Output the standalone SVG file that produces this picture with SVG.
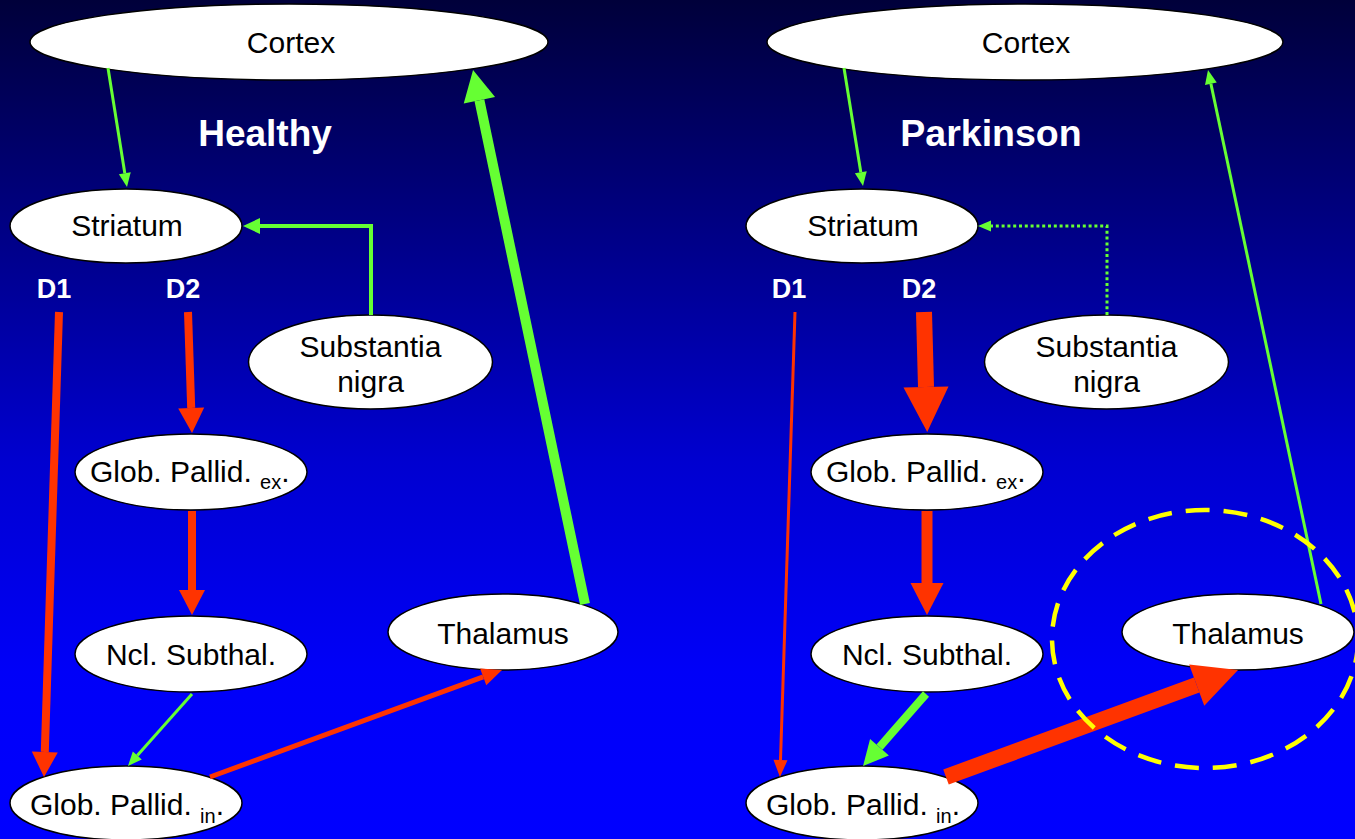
<svg xmlns="http://www.w3.org/2000/svg" width="1355" height="839" viewBox="0 0 1355 839">
  <defs>
    <linearGradient id="bg" x1="0" y1="0" x2="0" y2="1">
      <stop offset="0" stop-color="#00003a"/>
      <stop offset="0.3" stop-color="#00008c"/>
      <stop offset="0.55" stop-color="#0000d0"/>
      <stop offset="0.8" stop-color="#0000f8"/>
      <stop offset="1" stop-color="#0000ff"/>
    </linearGradient>
    <marker id="g14" markerUnits="userSpaceOnUse" markerWidth="14" markerHeight="12" refX="0" refY="6" orient="auto" overflow="visible"><path d="M0,0 L14,6 L0,12 Z" fill="#66ff33"/></marker>
    <marker id="g13" markerUnits="userSpaceOnUse" markerWidth="13" markerHeight="11" refX="0" refY="5.5" orient="auto" overflow="visible"><path d="M0,0 L13,5.5 L0,11 Z" fill="#66ff33"/></marker>
    <marker id="g17" markerUnits="userSpaceOnUse" markerWidth="17" markerHeight="16" refX="0" refY="8" orient="auto" overflow="visible"><path d="M0,0 L17,8 L0,16 Z" fill="#66ff33"/></marker>
    <marker id="g25" markerUnits="userSpaceOnUse" markerWidth="25" markerHeight="25" refX="0" refY="12.5" orient="auto" overflow="visible"><path d="M0,0 L25,12.5 L0,25 Z" fill="#66ff33"/></marker>
    <marker id="g31" markerUnits="userSpaceOnUse" markerWidth="31" markerHeight="32" refX="0" refY="16" orient="auto" overflow="visible"><path d="M0,0 L31,16 L0,32 Z" fill="#66ff33"/></marker>
    <marker id="r17" markerUnits="userSpaceOnUse" markerWidth="17" markerHeight="14" refX="0" refY="7" orient="auto" overflow="visible"><path d="M0,0 L17,7 L0,14 Z" fill="#ff3300"/></marker>
    <marker id="r20" markerUnits="userSpaceOnUse" markerWidth="20" markerHeight="18" refX="0" refY="9" orient="auto" overflow="visible"><path d="M0,0 L20,9 L0,18 Z" fill="#ff3300"/></marker>
    <marker id="r25" markerUnits="userSpaceOnUse" markerWidth="25" markerHeight="26" refX="0" refY="13" orient="auto" overflow="visible"><path d="M0,0 L25,13 L0,26 Z" fill="#ff3300"/></marker>
    <marker id="r32" markerUnits="userSpaceOnUse" markerWidth="32" markerHeight="33" refX="0" refY="16.5" orient="auto" overflow="visible"><path d="M0,0 L32,16.5 L0,33 Z" fill="#ff3300"/></marker>
    <marker id="r44" markerUnits="userSpaceOnUse" markerWidth="44" markerHeight="44" refX="0" refY="22" orient="auto" overflow="visible"><path d="M0,0 L44,22 L0,44 Z" fill="#ff3300"/></marker>
    <marker id="r45" markerUnits="userSpaceOnUse" markerWidth="45" markerHeight="45" refX="0" refY="22.5" orient="auto" overflow="visible"><path d="M0,0 L45,22.5 L0,45 Z" fill="#ff3300"/></marker>
  </defs>
  <style>
    .node ellipse { fill: #ffffff; stroke: #000000; stroke-width: 1.5; }
    .node text { font-family: "Liberation Sans", Arial, sans-serif; font-size: 30px; fill: #000000; }
    .node text.c { text-anchor: middle; }
    .sub { font-size: 20px; }
    .title { font-family: "Liberation Sans", Arial, sans-serif; font-weight: bold; fill: #ffffff; text-anchor: middle; }
    .g { stroke: #66ff33; fill: none; stroke-linecap: butt; }
    .r { stroke: #ff3300; fill: none; stroke-linecap: butt; }
  </style>
  <rect x="0" y="0" width="1355" height="839" fill="url(#bg)"/>

  <!-- Titles and labels -->
  <g id="labels">
    <text class="title" x="265" y="146" font-size="37">Healthy</text>
    <text class="title" x="991" y="146" font-size="37.5">Parkinson</text>
    <text class="title" x="54" y="298" font-size="27">D1</text>
    <text class="title" x="183" y="298" font-size="27">D2</text>
    <text class="title" x="789" y="298" font-size="27">D1</text>
    <text class="title" x="919" y="298" font-size="27">D2</text>
  </g>

  <!-- Healthy nodes -->
  <g id="h-cortex" class="node"><ellipse cx="289" cy="42" rx="259" ry="38"/><text class="c" x="291" y="53">Cortex</text></g>
  <g id="h-striatum" class="node"><ellipse cx="126" cy="226" rx="116" ry="37"/><text class="c" x="127" y="236">Striatum</text></g>
  <g id="h-sn" class="node"><ellipse cx="370.5" cy="362" rx="122" ry="47"/><text class="c" x="370.5" y="357">Substantia</text><text class="c" x="370.5" y="392">nigra</text></g>
  <g id="h-gpex" class="node"><ellipse cx="191" cy="472" rx="116" ry="38"/><text x="90" y="482">Glob. Pallid. <tspan class="sub" dy="7">ex</tspan><tspan dy="-7">.</tspan></text></g>
  <g id="h-ncl" class="node"><ellipse cx="191" cy="654" rx="116" ry="38"/><text class="c" x="191" y="665">Ncl. Subthal.</text></g>
  <g id="h-thal" class="node"><ellipse cx="503" cy="632" rx="115" ry="38"/><text class="c" x="503" y="644">Thalamus</text></g>
  <g id="h-gpin" class="node"><ellipse cx="126" cy="803" rx="116" ry="37"/><text x="30" y="815">Glob. Pallid. <tspan class="sub" dy="8">in</tspan><tspan dy="-8">.</tspan></text></g>

  <!-- Parkinson nodes -->
  <g id="p-cortex" class="node"><ellipse cx="1025" cy="42" rx="258" ry="38"/><text class="c" x="1026" y="53">Cortex</text></g>
  <g id="p-striatum" class="node"><ellipse cx="862" cy="226" rx="116" ry="37"/><text class="c" x="863" y="236">Striatum</text></g>
  <g id="p-sn" class="node"><ellipse cx="1106.5" cy="362" rx="122" ry="47"/><text class="c" x="1106.5" y="357">Substantia</text><text class="c" x="1106.5" y="392">nigra</text></g>
  <g id="p-gpex" class="node"><ellipse cx="927" cy="472" rx="116" ry="38"/><text x="826" y="482">Glob. Pallid. <tspan class="sub" dy="7">ex</tspan><tspan dy="-7">.</tspan></text></g>
  <g id="p-ncl" class="node"><ellipse cx="927" cy="654" rx="116" ry="38"/><text class="c" x="927" y="665">Ncl. Subthal.</text></g>
  <g id="p-thal" class="node"><ellipse cx="1238" cy="632" rx="116" ry="38"/><text class="c" x="1238" y="644">Thalamus</text></g>
  <g id="p-gpin" class="node"><ellipse cx="862" cy="803" rx="116" ry="37"/><text x="766" y="815">Glob. Pallid. <tspan class="sub" dy="8">in</tspan><tspan dy="-8">.</tspan></text></g>

  <!-- Connectors -->
  <g id="connectors">
    <!-- Healthy -->
    <line class="g" x1="108" y1="68" x2="124.8" y2="173.2" stroke-width="3" marker-end="url(#g14)"/>
    <path class="g" d="M371,315 V226 H260" stroke-width="4" marker-end="url(#g17)"/>
    <line class="g" x1="585" y1="604" x2="479.4" y2="100.3" stroke-width="10" marker-end="url(#g31)"/>
    <line class="r" x1="59" y1="312" x2="44.8" y2="752" stroke-width="8" marker-end="url(#r25)"/>
    <line class="r" x1="188" y1="312" x2="191.2" y2="408" stroke-width="8" marker-end="url(#r25)"/>
    <line class="r" x1="192" y1="511" x2="192" y2="590" stroke-width="8" marker-end="url(#r25)"/>
    <line class="g" x1="192" y1="694" x2="137.3" y2="755.5" stroke-width="3" marker-end="url(#g14)"/>
    <line class="r" x1="210" y1="777" x2="483.2" y2="676.9" stroke-width="5" marker-end="url(#r20)"/>
    <!-- Parkinson -->
    <line class="g" x1="844" y1="68" x2="860.8" y2="172.2" stroke-width="3" marker-end="url(#g14)"/>
    <path class="g" d="M1107,315 V226 H991" stroke-width="3" stroke-dasharray="3 2.8" marker-end="url(#g13)"/>
    <line class="g" x1="1321" y1="604" x2="1210.9" y2="83.7" stroke-width="3" marker-end="url(#g14)"/>
    <line class="r" x1="795" y1="312" x2="780.5" y2="760" stroke-width="3" marker-end="url(#r17)"/>
    <line class="r" x1="924" y1="312" x2="926" y2="387" stroke-width="16" marker-end="url(#r45)"/>
    <line class="r" x1="927" y1="511" x2="927" y2="583" stroke-width="11" marker-end="url(#r32)"/>
    <line class="g" x1="926" y1="694" x2="879.5" y2="747.2" stroke-width="8" marker-end="url(#g25)"/>
    <line class="r" x1="946" y1="777" x2="1196.7" y2="685.1" stroke-width="16" marker-end="url(#r44)"/>
  </g>

  <!-- Highlight circle -->
  <g id="highlight">
    <ellipse cx="1205" cy="639" rx="153" ry="129" fill="none" stroke="#ffff00" stroke-width="4.5" stroke-dasharray="24 14"/>
  </g>
</svg>
